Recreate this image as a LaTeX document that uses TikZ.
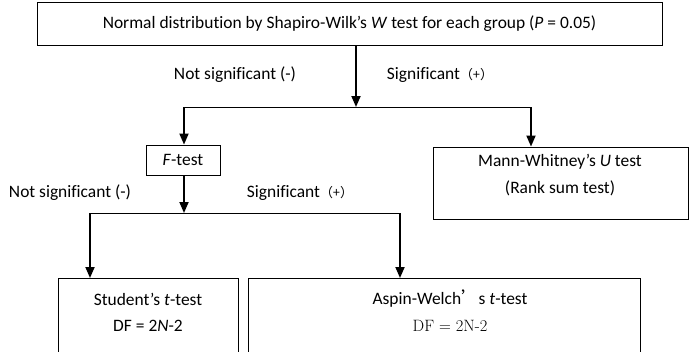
\documentclass[tikz,border=0pt]{standalone}
\usepackage{fontspec}
\setmainfont[Ligatures=NoCommon]{Carlito}
\newfontfamily\cjk{Noto Sans CJK SC}
\usetikzlibrary{arrows.meta}
\newcommand{\plusmark}{{\cjk\fontsize{13}{15}\selectfont （+）}}
\begin{document}
\begin{tikzpicture}[x=1bp,y=-1bp,
  font=\fontsize{17.5}{21}\selectfont,
  box/.style={draw, line width=0.9bp, inner sep=0pt},
  arr/.style={line width=1.8bp, -{Triangle[width=9bp,length=11bp]}},
  link/.style={line width=0.9bp},
  lbl/.style={inner sep=0pt}]
\useasboundingbox (0,0) rectangle (690,351);

% decision boxes
\node[box, minimum width=625bp, minimum height=43bp] (top) at (349.5,23.5)
  {Normal distribution by Shapiro-Wilk’s \textit{W} test for each group (\textit{P} = 0.05)};
\node[box, minimum width=74bp, minimum height=30bp] (ftest) at (183,160) {\textit{F}-test};
\node[box, minimum width=255bp, minimum height=72bp] (mann) at (560.5,183) {};
\node[lbl] (mann1) at (560,162) {Mann-Whitney’s \textit{U} test};
\node[lbl] (mann2) at (560,188) {(Rank sum test)};

% result boxes (open at the bottom)
\node[box, minimum width=180bp, minimum height=80bp, anchor=north west] (student) at (58,278) {};
\node[lbl] (student1) at (148,299) {Student’s \textit{t}-test};
\node[lbl] (student2) at (148,326) {DF = 2\textit{N}-2};
\node[box, minimum width=392bp, minimum height=80bp, anchor=north west] (aspin) at (248,278) {};
\node[lbl] (aspin1) at (450,299) {Aspin-Welch{\cjk ’}s \textit{t}-test};
\node[lbl] (aspin2) at (450,326) {\fontfamily{lmr}\selectfont\fontsize{16.5}{19}\selectfont DF = 2N-2};

% branch labels
\node[lbl] (ns1) at (235,75) {Not significant (-)};
\node[lbl] (s1) at (440,75) {Significant\plusmark};
\node[lbl] (ns2) at (70,193) {Not significant (-)};
\node[lbl] (s2) at (300,193) {Significant\plusmark};

% junctions
\coordinate (j1) at (356,107);
\coordinate (j1l) at (184,107);
\coordinate (j1r) at (531,107);
\coordinate (j2) at (184,213);
\coordinate (j2l) at (90,213);
\coordinate (j2r) at (400,213);

% connectors
\draw[arr] (top.south -| j1) -- (j1);
\draw[link] (j1l) -- (j1r);
\draw[arr] (j1l) -- (ftest.north -| j1l);
\draw[arr] (j1r) -- (mann.north -| j1r);
\draw[arr] (ftest.south -| j2) -- (j2);
\draw[link] (j2l) -- (j2r);
\draw[arr] (j2l) -- (student.north -| j2l);
\draw[arr] (j2r) -- (aspin.north -| j2r);
\end{tikzpicture}
\end{document}
